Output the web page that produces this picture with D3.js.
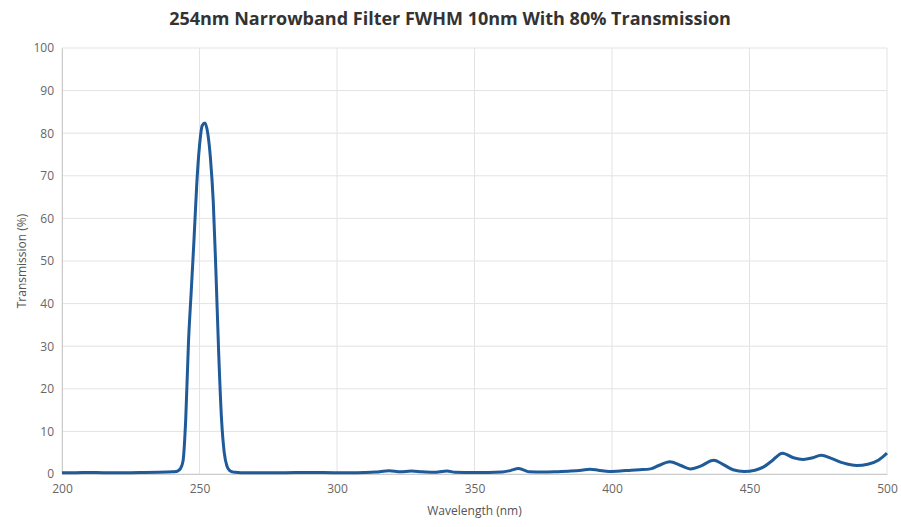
<!DOCTYPE html>
<html>
<head>
  <meta charset="utf-8">
  <title>254nm Narrowband Filter</title>
  <style>
    body { margin: 0; background: #fff; }
    text { font-family: "Open Sans", "Noto Sans", sans-serif; }
  </style>
</head>
<body>
  <svg width="901" height="527"></svg>
  <script src="https://d3js.org/d3.v7.min.js"></script>
  <script>
  // data
  var wavelength = [200, 205, 210, 215, 220, 225, 230, 235, 238, 240, 241, 242, 243, 244, 245, 246, 247, 248, 249, 250,
    251, 252, 253, 254, 255, 256, 257, 258, 259, 260, 261, 262, 263, 265, 270, 280, 290, 300, 305, 310,
    314, 319, 323, 327, 331, 335, 340, 343, 350, 355, 360, 363, 366, 368, 370, 375, 380, 385, 389, 392,
    395, 399, 403, 407, 410, 414, 417, 421, 425, 428.5, 432, 437, 440, 444, 448, 452, 455, 458, 462, 466,
    469.5, 473, 476, 480, 484, 489, 493, 497, 500];
  var transmission = [0.3, 0.3, 0.35, 0.3, 0.3, 0.3, 0.35, 0.4, 0.45, 0.5, 0.55, 0.7, 1.2, 3, 13, 31, 43, 55, 68, 77,
    81.8, 82.4, 80, 74, 64, 47, 28, 13, 5, 1.8, 0.8, 0.5, 0.4, 0.3, 0.3, 0.3, 0.35, 0.3, 0.3, 0.35,
    0.45, 0.75, 0.5, 0.7, 0.5, 0.4, 0.7, 0.4, 0.35, 0.35, 0.45, 0.8, 1.3, 0.9, 0.5, 0.45, 0.55, 0.7, 0.9, 1.1,
    0.9, 0.6, 0.7, 0.9, 1.0, 1.2, 2.0, 2.9, 2.0, 1.2, 1.8, 3.2, 2.4, 1.0, 0.6, 0.9, 1.6, 3.0, 4.9, 3.8,
    3.4, 3.8, 4.4, 3.6, 2.6, 2.0, 2.3, 3.3, 4.9];
  var xTicks = [200, 250, 300, 350, 400, 450, 500];
  var yTicks = [0, 10, 20, 30, 40, 50, 60, 70, 80, 90, 100];

  var margin = {top: 48, right: 14, bottom: 53, left: 62};
  var svg = d3.select('svg');
  var width = 901 - margin.left - margin.right;
  var height = 527 - margin.top - margin.bottom;

  var x = d3.scaleLinear().domain([200, 500]).range([0, width]);
  var y = d3.scaleLinear().domain([0, 100]).range([height, 0]);

  var g = svg.append('g')
    .attr('transform', 'translate(' + margin.left + ',' + margin.top + ')');

  // grid
  g.selectAll('.hgrid')
    .data(yTicks)
    .enter()
    .append('line')
    .attr('x1', 0).attr('x2', width)
    .attr('y1', function(d) { return y(d); })
    .attr('y2', function(d) { return y(d); })
    .attr('stroke', '#e3e3e3');

  g.selectAll('.vgrid')
    .data(xTicks)
    .enter()
    .append('line')
    .attr('y1', 0).attr('y2', height)
    .attr('x1', function(d) { return x(d); })
    .attr('x2', function(d) { return x(d); })
    .attr('stroke', '#e3e3e3');

  // axes
  var xAxis = g.append('g')
    .attr('transform', 'translate(0,' + height + ')')
    .call(d3.axisBottom(x).tickValues(xTicks).tickSize(0).tickPadding(10));
  var yAxis = g.append('g')
    .call(d3.axisLeft(y).tickValues(yTicks).tickSize(0).tickPadding(8));

  [xAxis, yAxis].forEach(function(a) {
    a.select('.domain').attr('stroke', '#cccccc');
    a.selectAll('text')
      .attr('fill', '#666')
      .style('font-size', '12px')
      .style('font-family', '"Open Sans", sans-serif');
  });

  // line
  var line = d3.line()
    .x(function(d, i) { return x(wavelength[i]); })
    .y(function(d) { return y(d); })
    .curve(d3.curveMonotoneX);

  g.append('path')
    .datum(transmission)
    .attr('fill', 'none')
    .attr('stroke', '#1f5a99')
    .attr('stroke-width', 3)
    .attr('stroke-linejoin', 'round')
    .attr('d', line);

  // titles
  svg.append('text')
    .attr('x', 450)
    .attr('y', 25)
    .attr('text-anchor', 'middle')
    .attr('fill', '#333')
    .style('font-size', '18px')
    .style('font-weight', 'bold')
    .text('254nm Narrowband Filter FWHM 10nm With 80% Transmission');

  svg.append('text')
    .attr('x', margin.left + width / 2)
    .attr('y', 515)
    .attr('text-anchor', 'middle')
    .attr('fill', '#555')
    .style('font-size', '12px')
    .text('Wavelength (nm)');

  svg.append('text')
    .attr('transform', 'translate(26,' + (margin.top + height / 2) + ') rotate(-90)')
    .attr('text-anchor', 'middle')
    .attr('fill', '#555')
    .style('font-size', '12px')
    .text('Transmission (%)');
  </script>
</body>
</html>
